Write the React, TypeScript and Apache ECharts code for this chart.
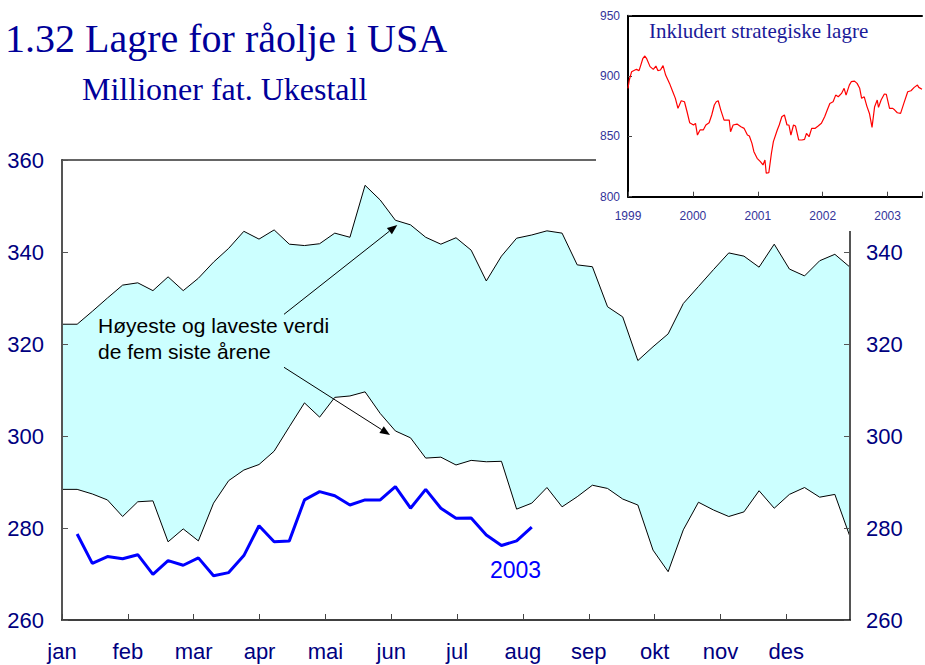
import React, { useEffect, useRef } from 'react';
import * as echarts from 'echarts';

// ---------- data ----------
const months = ['jan', 'feb', 'mar', 'apr', 'mai', 'jun', 'jul', 'aug', 'sep', 'okt', 'nov', 'des'];

// weekly, week 0..52 : highest value the last five years
const highest5y = [
  324.3, 324.3, 327.1, 330.0, 332.8, 333.3, 331.6, 334.6, 331.6, 334.3,
  337.8, 340.8, 344.5, 342.8, 344.8, 341.7, 341.4, 341.8, 344.1, 343.2,
  354.5, 351.3, 346.9, 345.9, 343.2, 341.7, 343.1, 340.4, 333.7, 339.1,
  343.0, 343.7, 344.6, 344.1, 337.2, 336.8, 328.1, 325.9, 316.4, 319.4,
  322.2, 328.8, 332.5, 336.2, 339.8, 339.1, 336.7, 341.7, 336.3, 334.8,
  338.1, 339.5, 336.7,
];

// weekly, week 0..52 : lowest value the last five years
const lowest5y = [
  288.4, 288.4, 287.4, 286.1, 282.5, 285.7, 285.9, 277.0, 279.8, 277.2,
  285.4, 290.3, 292.6, 293.8, 296.7, 302.0, 307.2, 304.1, 308.4, 308.7,
  309.6, 304.9, 301.1, 299.6, 295.2, 295.4, 293.7, 294.7, 294.4, 294.5,
  284.1, 285.4, 288.8, 284.6, 286.8, 289.3, 288.6, 286.3, 285.0, 275.2,
  270.5, 279.6, 285.6, 283.9, 282.5, 283.5, 288.1, 284.3, 287.3, 288.8,
  286.7, 287.3, 278.1,
];

// 2003, starting at week 1
const firstWeek2003 = 1;
const stocks2003 = [
  278.7, 272.3, 273.8, 273.3, 274.2, 269.9, 272.9, 271.9, 273.5, 269.6,
  270.3, 274.0, 280.5, 277.0, 277.2, 286.1, 287.9, 287.0, 285.0, 286.1,
  286.1, 289.0, 284.3, 288.4, 284.3, 282.1, 282.2, 278.5, 276.2, 277.2,
  280.2,
];

// inset: including strategic reserves
const insetYears = [
  1999.00, 1999.02, 1999.056, 1999.107, 1999.13, 1999.17, 1999.19, 1999.23, 1999.26, 1999.285,
  1999.34, 1999.39, 1999.43, 1999.46, 1999.50, 1999.54, 1999.58, 1999.64, 1999.69, 1999.73,
  1999.77, 1999.82, 1999.87, 1999.91, 1999.95, 2000.01, 2000.04, 2000.07, 2000.11, 2000.16,
  2000.20, 2000.25, 2000.29, 2000.33, 2000.36, 2000.39, 2000.43, 2000.48, 2000.56, 2000.58,
  2000.62, 2000.68, 2000.74, 2000.79, 2000.84, 2000.87, 2000.91, 2000.94, 2000.99, 2001.04,
  2001.08, 2001.11, 2001.13, 2001.17, 2001.21, 2001.24, 2001.30, 2001.33, 2001.37, 2001.41,
  2001.45, 2001.48, 2001.51, 2001.55, 2001.58, 2001.63, 2001.68, 2001.72, 2001.75, 2001.79,
  2001.83, 2001.88, 2001.93, 2001.98, 2002.03, 2002.07, 2002.11, 2002.16, 2002.20, 2002.24,
  2002.29, 2002.33, 2002.36, 2002.41, 2002.44, 2002.49, 2002.53, 2002.57, 2002.60, 2002.64,
  2002.68, 2002.72, 2002.76, 2002.80, 2002.84, 2002.86, 2002.90, 2002.95, 2002.98, 2003.03,
  2003.08, 2003.11, 2003.15, 2003.20, 2003.25, 2003.31, 2003.36, 2003.41, 2003.46, 2003.48,
  2003.53,
];
const insetValues = [
  889.8, 896.7, 903.6, 905.0, 905.5, 904.5, 907.8, 914.7, 916.6, 914.7,
  907.8, 905.5, 908.3, 904.5, 905.0, 908.6, 900.8, 893.9, 887.0, 881.5,
  873.2, 879.5, 878.7, 870.4, 861.3, 859.4, 860.8, 851.1, 855.3, 855.3,
  859.4, 861.3, 867.7, 876.0, 878.7, 879.5, 871.8, 863.5, 863.5, 853.8,
  859.4, 860.2, 858.0, 856.6, 851.1, 850.3, 844.2, 837.3, 831.8, 829.0,
  826.3, 830.4, 819.4, 820.0, 836.0, 845.6, 855.3, 859.4, 866.3, 867.7,
  859.4, 859.4, 851.1, 859.4, 858.6, 847.0, 847.0, 847.5, 852.5, 849.7,
  856.6, 856.6, 858.6, 860.8, 866.3, 871.8, 877.3, 878.7, 884.2, 882.8,
  885.6, 889.8, 884.2, 892.5, 895.3, 895.8, 893.9, 889.8, 881.5, 882.8,
  875.1, 869.0, 857.4, 874.6, 880.1, 874.0, 880.1, 885.1, 884.8, 873.2,
  873.2, 871.8, 869.6, 869.0, 877.3, 887.0, 887.8, 890.6, 892.5, 890.6,
  889.0,
];

const DAYS_PER_WEEK = 7;
const DAYS_PER_MONTH = 365 / 12;

const SANS = '"Liberation Sans", Arial, sans-serif';
const SERIF = '"Liberation Serif", "Times New Roman", serif';
const NAVY = '#000080';

function buildOption(): any {
  const weekly = (arr: number[], start = 0) => arr.map((v, i) => [(i + start) * DAYS_PER_WEEK, v]);

  const monthLabel = (v: number) => {
    const k = Math.round(v / DAYS_PER_MONTH);
    if (k < 0 || k >= 12 || Math.abs(v - k * DAYS_PER_MONTH) > 0.5) return '';
    return months[k];
  };

  const mainY = (position: 'left' | 'right', margin: number) => ({
    type: 'value',
    gridIndex: 0,
    position,
    min: 260,
    max: 360,
    interval: 20,
    z: 10,
    axisLine: { show: true, onZero: false, lineStyle: { color: '#555', width: 2 } },
    axisTick: { show: true, inside: true, length: 6, lineStyle: { color: '#555', width: 1 } },
    axisLabel: { show: true, color: NAVY, fontSize: 22, fontFamily: SANS, margin },
    splitLine: { show: false },
  });

  return {
    animation: false,
    backgroundColor: '#fff',
    grid: [
      { left: 62, top: 160, width: 788, height: 460 },
      { left: 628, top: 15.7, width: 297, height: 181 },
    ],
    xAxis: [
      {
        type: 'value',
        gridIndex: 0,
        position: 'bottom',
        min: 0,
        max: 52 * DAYS_PER_WEEK,
        interval: DAYS_PER_MONTH,
        z: 10,
        axisLine: { show: true, onZero: false, lineStyle: { color: '#000', width: 1.5 } },
        axisTick: { show: true, inside: true, length: 6, lineStyle: { color: '#444' } },
        axisLabel: { show: true, formatter: monthLabel, color: NAVY, fontSize: 22, fontFamily: SANS, margin: 20, showMaxLabel: false },
        splitLine: { show: false },
      },
      {
        type: 'value',
        gridIndex: 0,
        position: 'top',
        min: 0,
        max: 52 * DAYS_PER_WEEK,
        z: 10,
        axisLine: { show: true, onZero: false, lineStyle: { color: '#333', width: 1.5 } },
        axisTick: { show: false },
        axisLabel: { show: false },
        splitLine: { show: false },
      },
      {
        type: 'value',
        gridIndex: 1,
        position: 'bottom',
        min: 1999,
        max: 2003.53,
        interval: 1,
        z: 60,
        axisLine: { show: true, onZero: false, lineStyle: { color: '#000', width: 2 } },
        axisTick: { show: true, inside: true, length: 5, lineStyle: { color: '#444' } },
        axisLabel: {
          show: true,
          formatter: (v: number) => (Math.abs(v - Math.round(v)) < 1e-6 ? String(Math.round(v)) : ''),
          color: '#333399',
          fontSize: 12,
          fontFamily: '"Liberation Sans Narrow", ' + SANS,
          margin: 13,
        },
        splitLine: { show: false },
      },
      {
        type: 'value',
        gridIndex: 1,
        position: 'top',
        min: 1999,
        max: 2003.53,
        z: 60,
        axisLine: { show: true, onZero: false, lineStyle: { color: '#000', width: 2 } },
        axisTick: { show: false },
        axisLabel: { show: false },
        splitLine: { show: false },
      },
    ],
    yAxis: [
      mainY('left', 18),
      mainY('right', 16),
      {
        type: 'value',
        gridIndex: 1,
        position: 'left',
        min: 800,
        max: 950,
        interval: 50,
        z: 60,
        axisLine: { show: true, onZero: false, lineStyle: { color: '#000', width: 2 } },
        axisTick: { show: true, inside: true, length: 4, lineStyle: { color: '#444' } },
        axisLabel: { show: true, color: '#333399', fontSize: 12, fontFamily: '"Liberation Sans Narrow", ' + SANS, margin: 8 },
        splitLine: { show: false },
      },
    ],
    series: [
      {
        name: 'Høyeste',
        type: 'line',
        xAxisIndex: 0,
        yAxisIndex: 0,
        data: weekly(highest5y),
        symbol: 'none',
        z: 2,
        lineStyle: { color: '#000', width: 1 },
        areaStyle: { color: '#ccffff', opacity: 1, origin: 'start' },
      },
      {
        name: 'Laveste',
        type: 'line',
        xAxisIndex: 0,
        yAxisIndex: 0,
        data: weekly(lowest5y),
        symbol: 'none',
        z: 3,
        lineStyle: { color: '#000', width: 1 },
        areaStyle: { color: '#ffffff', opacity: 1, origin: 'start' },
      },
      {
        name: '2003',
        type: 'line',
        xAxisIndex: 0,
        yAxisIndex: 0,
        data: weekly(stocks2003, firstWeek2003),
        symbol: 'none',
        z: 4,
        lineStyle: { color: '#0000ff', width: 3 },
      },
      {
        name: 'Inkludert strategiske lagre',
        type: 'line',
        xAxisIndex: 2,
        yAxisIndex: 2,
        data: insetYears.map((y, i) => [y, insetValues[i]]),
        symbol: 'none',
        z: 60,
        lineStyle: { color: '#ff0000', width: 1.2 },
      },
    ],
    graphic: {
      elements: [
        // white background of the inset
        { type: 'rect', z: 50, silent: true, shape: { x: 596, y: 0, width: 329, height: 231 }, style: { fill: '#fff' } },
        {
          type: 'text', z: 70, x: 5, y: 38,
          style: { text: '1.32 Lagre for råolje i USA', fontSize: 40, fontFamily: SERIF, fill: '#000099', verticalAlign: 'middle' },
        },
        {
          type: 'text', z: 70, x: 82, y: 89,
          style: { text: 'Millioner fat. Ukestall', fontSize: 32, fontFamily: SERIF, fill: '#000099', verticalAlign: 'middle' },
        },
        {
          type: 'text', z: 70, x: 649, y: 30.5,
          style: { text: 'Inkludert strategiske lagre', fontSize: 21, fontFamily: SERIF, fill: '#1a1a99', verticalAlign: 'middle' },
        },
        {
          type: 'text', z: 20, x: 98, y: 312,
          style: {
            text: 'Høyeste og laveste verdi\nde fem siste årene',
            fontSize: 21, lineHeight: 26, fontFamily: SANS, fill: '#000', verticalAlign: 'top',
          },
        },
        {
          type: 'text', z: 20, x: 490, y: 570,
          style: { text: '2003', fontSize: 23, fontFamily: SANS, fill: '#0000ff', verticalAlign: 'middle' },
        },
        // arrows
        { type: 'line', z: 20, shape: { x1: 284, y1: 314.3, x2: 389.4, y2: 231.2 }, style: { stroke: '#000', lineWidth: 1 } },
        { type: 'polygon', z: 20, shape: { points: [[397.3, 225], [391.9, 234.3], [386.9, 228.1]] }, style: { fill: '#000' } },
        { type: 'line', z: 20, shape: { x1: 284, y1: 367.3, x2: 381.6, y2: 429.6 }, style: { stroke: '#000', lineWidth: 1 } },
        { type: 'polygon', z: 20, shape: { points: [[390, 435], [379.4, 433.0], [383.8, 426.2]] }, style: { fill: '#000' } },
      ],
    },
  };
}

export default function App() {
  const ref = useRef<HTMLDivElement>(null);
  useEffect(() => {
    if (!ref.current) return;
    const chart = echarts.init(ref.current, undefined, { renderer: 'svg' });
    chart.setOption(buildOption());
    return () => chart.dispose();
  }, []);
  return (
    <div
      ref={ref}
      style={{ position: 'absolute', left: 0, top: 0, width: 925, height: 665, background: '#fff' }}
    />
  );
}
